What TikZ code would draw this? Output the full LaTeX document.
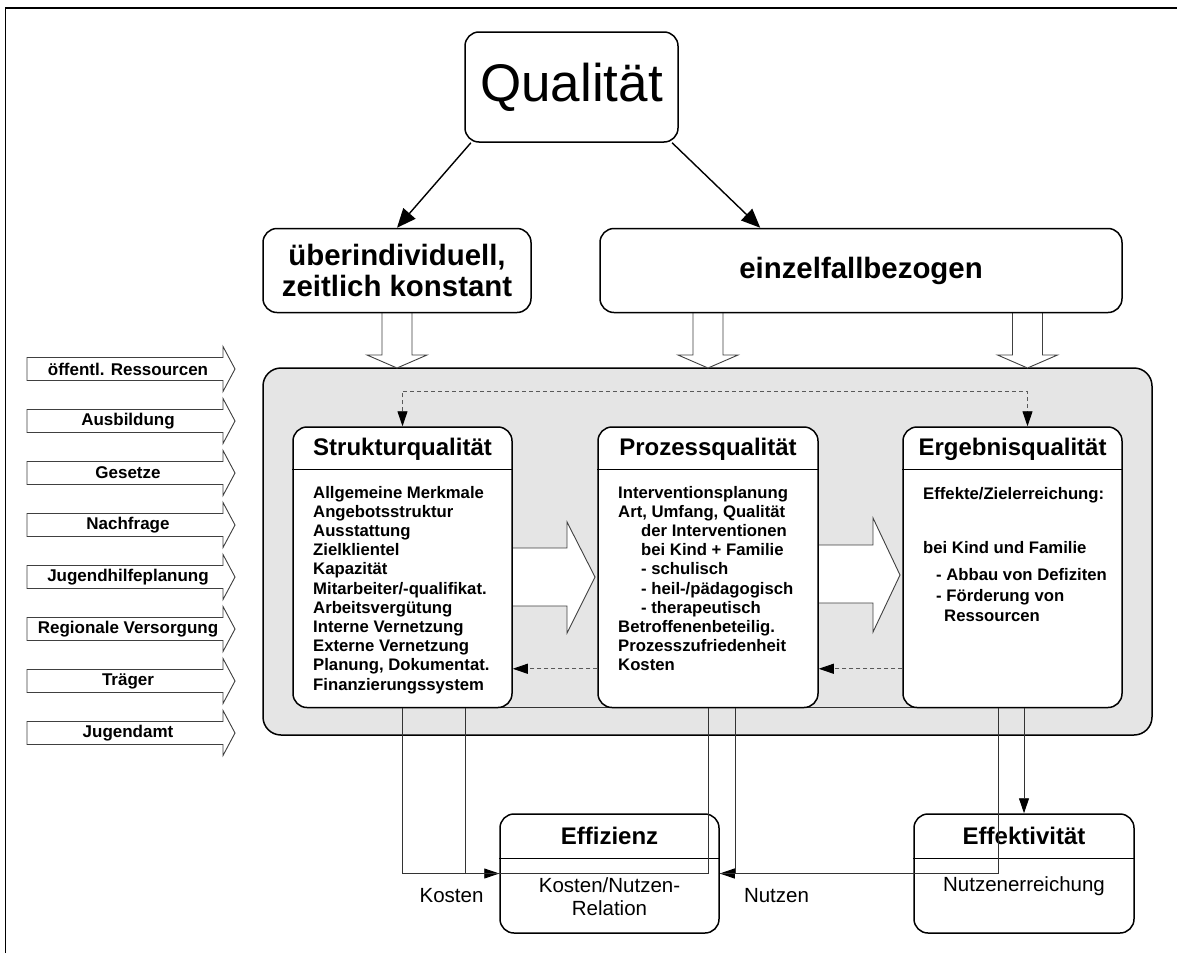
\documentclass[tikz,border=0pt]{standalone}
\usepackage{fontspec}
\setmainfont{Liberation Sans}
\usetikzlibrary{arrows.meta,calc}
\newcommand\lcol[1]{\begin{tabular}[t]{@{}l@{}}#1\end{tabular}}
\newcommand\ccol[1]{\begin{tabular}[t]{@{}c@{}}#1\end{tabular}}
\begin{document}
\begin{tikzpicture}[x=1pt,y=-1pt,
  box/.style={draw=black, line width=1.5pt, rounded corners=14pt, fill=white, inner sep=0pt},
  thinl/.style={draw=black!80, line width=0.9pt},
  hollow/.style={draw=black!75, line width=0.9pt, fill=white},
  dsh/.style={draw=black!65, line width=0.9pt, dash pattern=on 4pt off 3pt},
  tip/.style={-{Triangle[length=15pt,width=10pt,color=black]}},
  ttl/.style={font=\fontsize{24}{28}\selectfont\bfseries, inner sep=0pt, anchor=base},
  lst/.style={font=\fontsize{16.7}{19.2}\selectfont\bfseries, inner sep=0pt, anchor=base west},
  lbl/.style={font=\fontsize{20.5}{23}\selectfont, inner sep=0pt, anchor=base},
  inl/.style={font=\fontsize{17}{19}\selectfont\bfseries, inner sep=0pt}
]
\useasboundingbox (0,0) rectangle (1177,953);
\fill[white] (0,0) rectangle (1177,953);
% frame
\draw[line width=1.8pt] (5.5,953) -- (5.5,8) -- (1177,8);

% input arrows on the left
\foreach \y/\t [count=\i] in {369/öffentl. Ressourcen,421/Ausbildung,473/Gesetze,525/Nachfrage,577/Jugendhilfeplanung,629/Regionale Versorgung,681/Träger,733/Jugendamt}{
  \filldraw[hollow] (27,\y-11.5) -- (223,\y-11.5) -- (223,\y-22.5) -- (235,\y) -- (223,\y+22.5) -- (223,\y+11.5) -- (27,\y+11.5) -- cycle;
  \node[inl] (in\i) at (128,\y) {\t};
}

% grey panel
\node[draw=black, line width=1.5pt, fill=black!10, rounded corners=18pt, minimum width=889, minimum height=367, inner sep=0pt] (panel) at (707.5,551.5) {};

% hollow arrows from top boxes to panel
\foreach \c in {397,708,1027.5}{
  \filldraw[hollow] (\c-15,300) -- (\c-15,355) -- (\c-30,355) -- (\c,368) -- (\c+30,355) -- (\c+15,355) -- (\c+15,300) -- cycle;
}

% top boxes
\node[box, minimum width=213, minimum height=110, font=\fontsize{53}{57}\selectfont] (q) at (571.5,87) {Qualität};
\node[box, minimum width=268, minimum height=84, font=\fontsize{29.4}{31}\selectfont\bfseries, align=center] (ub) at (397,270.5) {überindividuell,\\zeitlich konstant};
\node[box, minimum width=522, minimum height=84, font=\fontsize{29.4}{31}\selectfont\bfseries] (ezb) at (861,270.5) {einzelfallbezogen};

\draw[line width=1.4pt, -{Triangle[length=19pt,width=16pt]}] (q.209) -- (ub.north);
\draw[line width=1.4pt, -{Triangle[length=19pt,width=16pt]}] (q.331.6) -- (ezb.157);

% thin line joining box bottoms
\draw[thinl] (402.5,707.5) -- (1012.5,707.5);

% big hollow arrows between quality boxes
\filldraw[hollow] (500,548) -- (567,548) -- (567,522) -- (595,577) -- (567,633) -- (567,606) -- (500,606) -- cycle;
\filldraw[hollow] (805,545) -- (873,545) -- (873,518) -- (900,575) -- (873,632) -- (873,603) -- (805,603) -- cycle;

% quality boxes
\node[box, minimum width=219, minimum height=280.5] (sq) at (402.5,567.25) {};
\node[box, minimum width=220, minimum height=280.5] (pq) at (708,567.25) {};
\node[box, minimum width=219, minimum height=280.5] (eg) at (1012.5,567.25) {};
\foreach \b in {sq,pq,eg}{
  \draw[line width=1.5pt] ($(\b.north west)+(0,43)$) -- ($(\b.north east)+(0,43)$);
}
\node[ttl] (sqt) at (402.5,455) {Strukturqualität};
\node[ttl] (pqt) at (708,455) {Prozessqualität};
\node[ttl] (egt) at (1012.5,455) {Ergebnisqualität};

\node[lst] (sql) at (313,498) {\lcol{Allgemeine Merkmale\\Angebotsstruktur\\Ausstattung\\Zielklientel\\Kapazität\\Mitarbeiter/-qualifikat.\\Arbeitsvergütung\\Interne Vernetzung\\Externe Vernetzung\\Planung, Dokumentat.\\Finanzierungssystem}};
\node[lst] (pql) at (618,498) {\lcol{Interventionsplanung\\Art, Umfang, Qualität\\\hspace*{23pt}der Interventionen\\\hspace*{23pt}bei Kind + Familie\\\hspace*{23pt}- schulisch\\\hspace*{23pt}- heil-/pädagogisch\\\hspace*{23pt}- therapeutisch\\Betroffenenbeteilig.\\Prozesszufriedenheit\\Kosten}};
\node[lst] (eg1) at (923,499) {Effekte/Zielerreichung:};
\node[lst] (eg2) at (923,553) {bei Kind und Familie};
\node[lst] (eg3) at (936,580) {- Abbau von Defiziten};
\node[lst] (eg4) at (936,601) {- Förderung von};
\node[lst] (eg5) at (944,621) {Ressourcen};

% dashed feedback arrows
\draw[dsh, {Triangle[length=15pt,width=10pt,color=black]}-{Triangle[length=15pt,width=10pt,color=black]}]
  (sq.north) |- ($(eg.north)+(15,-35)$) -- ($(eg.north)+(15,0)$);
\draw[dsh, tip] ($(eg.south west)+(0,-39.5)$) -- ($(pq.south east)+(0,-39.5)$);
\draw[dsh, tip] ($(pq.south west)+(0,-39.5)$) -- ($(sq.south east)+(0,-39.5)$);

% bottom boxes
\node[box, minimum width=219, minimum height=119] (eff) at (609.5,873.5) {};
\node[box, minimum width=220, minimum height=119] (ekt) at (1024,873.5) {};
\foreach \b in {eff,ekt}{
  \draw[line width=1.5pt] ($(\b.north west)+(0,45)$) -- ($(\b.north east)+(0,45)$);
}
\node[ttl] (efft) at (609.5,844) {Effizienz};
\node[ttl] (ektt) at (1024,844) {Effektivität};
\node[lbl] (effb) at (609.5,892) {\ccol{Kosten/Nutzen-\\Relation}};
\node[lbl] (ektb) at (1024,891) {Nutzenerreichung};
\node[lbl] (kl) at (451.5,902) {Kosten};
\node[lbl] (nl) at (776.5,902) {Nutzen};

% connectors to efficiency / effectiveness
\draw[thinl, tip] (sq.south) |- (eff.west);
\draw[thinl] ($(sq.south)+(62.5,0)$) |- (eff.west);
\draw[thinl] (pq.south) |- (eff.west);
\draw[thinl, tip] ($(pq.south)+(27,0)$) |- (eff.east);
\draw[thinl] ($(eg.south)+(-14.5,0)$) |- (eff.east);
\draw[thinl, tip] ($(eg.south)+(11.5,0)$) -- (ekt.north);
\end{tikzpicture}
\end{document}
